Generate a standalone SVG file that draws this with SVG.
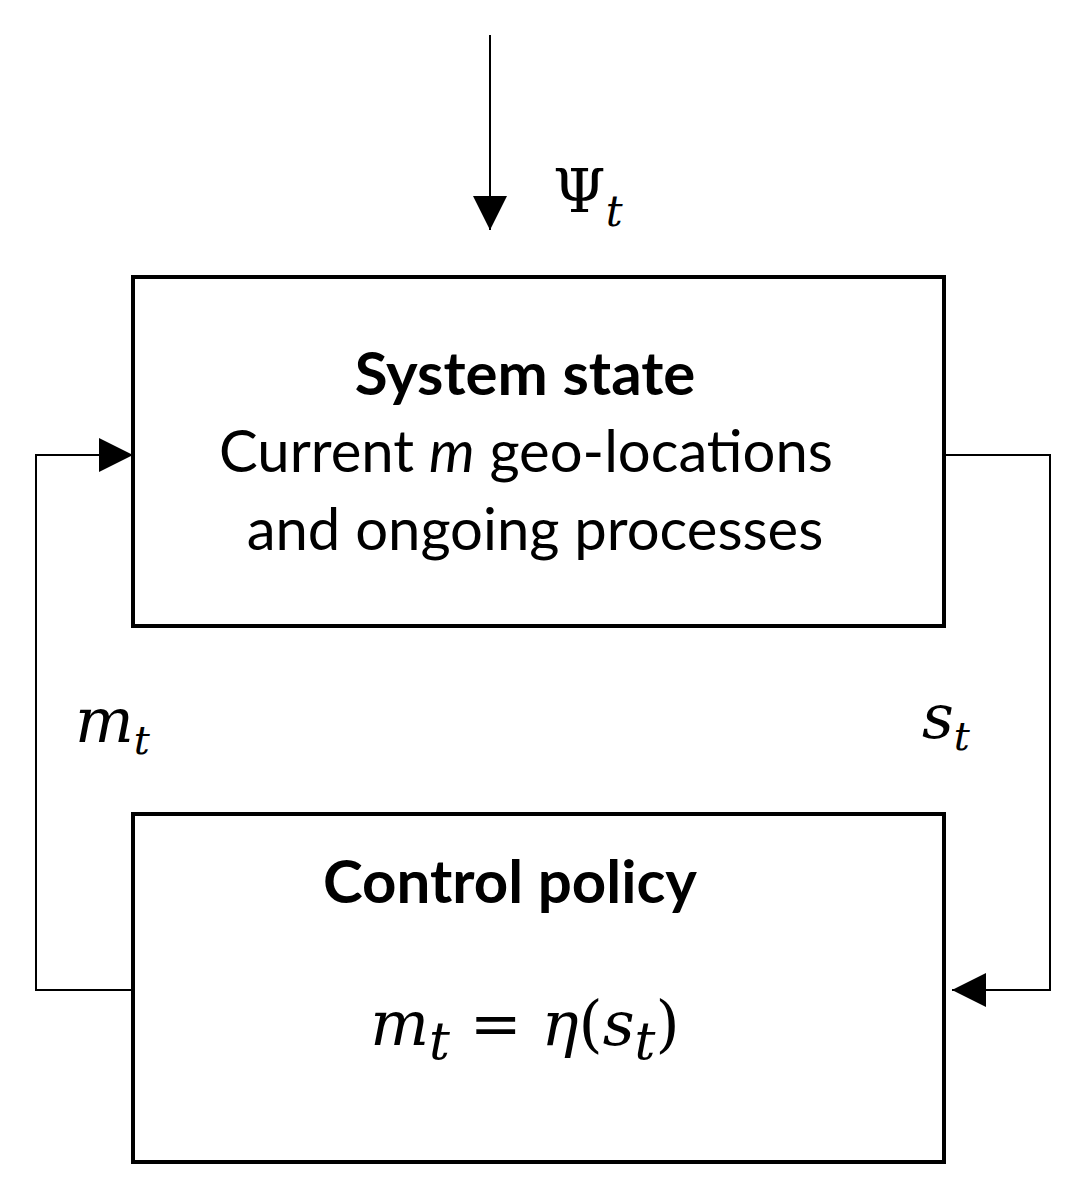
<svg xmlns="http://www.w3.org/2000/svg" width="1077" height="1198" viewBox="0 0 1077 1198">
<style>
.box{fill:#fff;stroke:#000;stroke-width:4}
.ln{fill:none;stroke:#000;stroke-width:2}
.t{font-family:Lato,"Open Sans",sans-serif;font-size:58px;text-anchor:middle;fill:#000}
.b{font-weight:bold;font-size:60px}
.m{font-family:"DejaVu Serif","Liberation Serif",serif;font-style:italic;font-size:62px;fill:#000}
.s{font-size:40px}
</style>
<defs>
<marker id="A" markerWidth="34" markerHeight="34" refX="34" refY="17" orient="auto" markerUnits="userSpaceOnUse" viewBox="0 0 34 34"><path d="M0,0L34,17L0,34z" fill="#000"/></marker></defs>
<g id="connectors">
<line class="ln" x1="490" y1="35" x2="490" y2="230" marker-end="url(#A)"/>
<polyline class="ln" points="140,990 36,990 36,455 133,455" marker-end="url(#A)"/>
<polyline class="ln" points="944,455 1050,455 1050,990 952,990" marker-end="url(#A)"/>
</g>
<text x="553" y="212" font-family="DejaVu Serif,serif" font-size="60">Ψ<tspan font-size="42" font-style="italic" dy="14">t</tspan></text>
<text class="m" x="75" y="742" font-size="66">m<tspan class="s" dy="12">t</tspan></text>
<text class="m" x="922" y="738" font-size="66">s<tspan class="s" dy="12">t</tspan></text>
<g id="system"><rect class="box" x="133" y="277" width="811" height="349"/>
<text class="t b" x="525" y="395">System state</text>
<text class="t" x="526" y="472">Current <tspan font-style="italic">m</tspan> geo-locations</text>
<text class="t" x="535" y="550">and ongoing processes</text></g>
<g id="policy"><rect class="box" x="133" y="814" width="811" height="348"/>
<text class="t b" x="510" y="903">Control policy</text>
<text class="m" x="525" y="1045" text-anchor="middle" font-size="80">m<tspan font-size="52" dy="14">t</tspan><tspan dy="-14" font-style="normal"> = </tspan>η<tspan font-style="normal">(</tspan>s<tspan font-size="52" dy="14">t</tspan><tspan dy="-14" font-style="normal">)</tspan></text></g>
</svg>
